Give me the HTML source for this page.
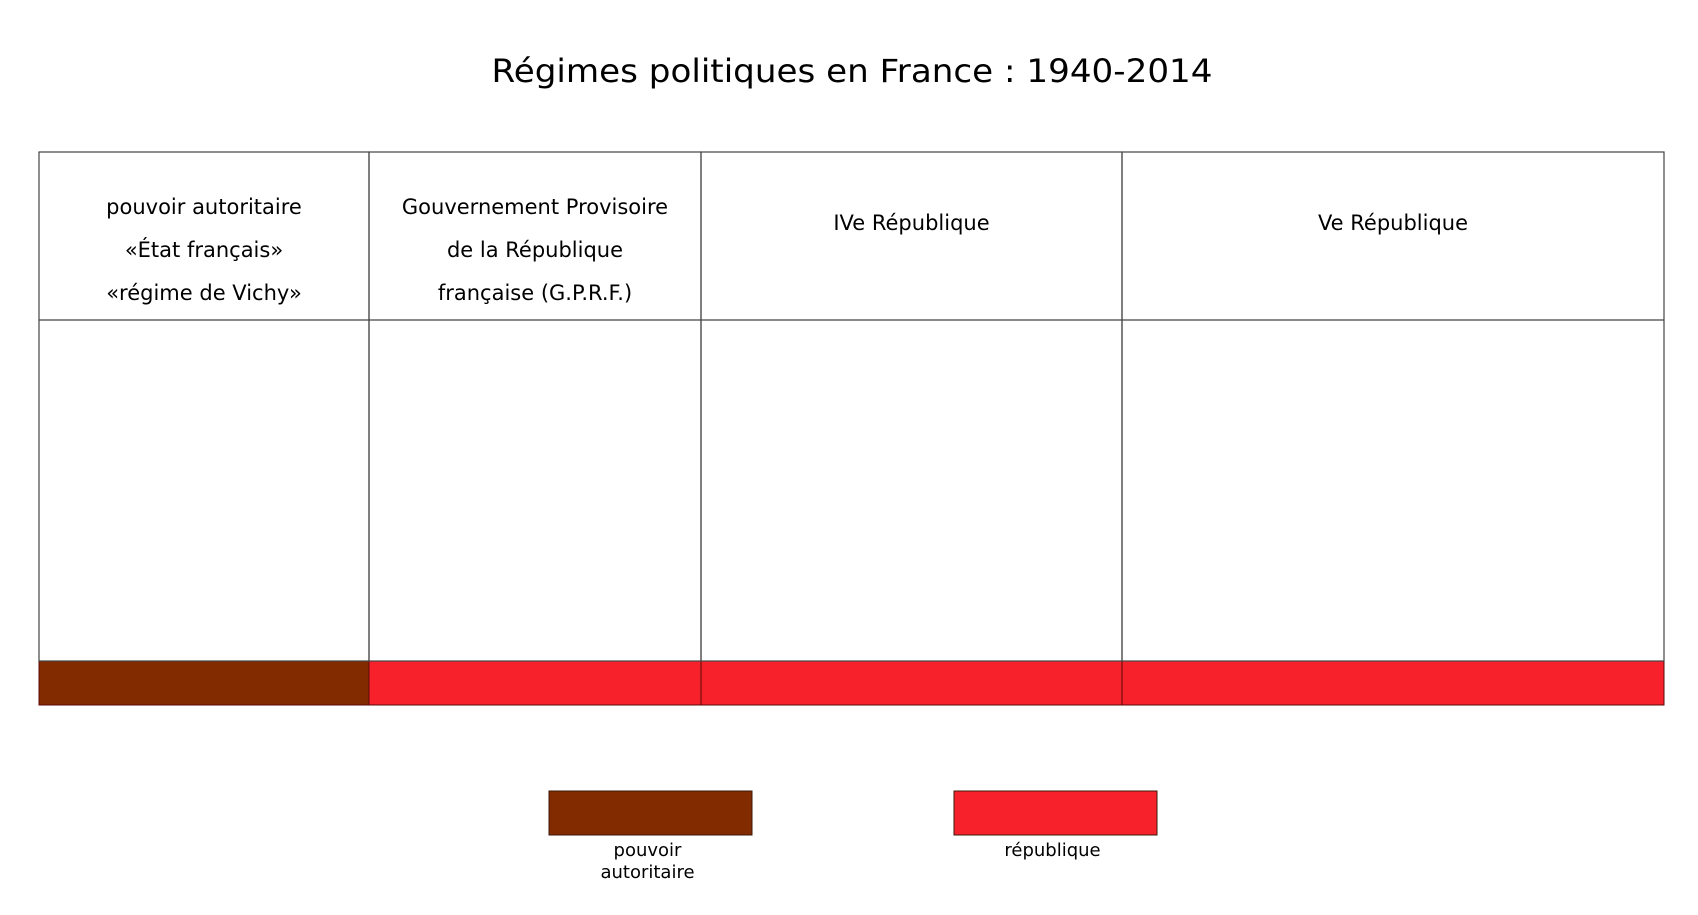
<!DOCTYPE html>
<html lang="fr">
<head>
<meta charset="utf-8">
<title>Régimes politiques en France : 1940-2014</title>
<style>
  html,body{margin:0;padding:0;background:#fff;}
  svg{display:block;font-family:"DejaVu Sans","Liberation Sans",sans-serif;}
</style>
</head>
<body>
<svg id="chart" width="1698" height="915" viewBox="0 0 1698 915" xmlns="http://www.w3.org/2000/svg">
  <text x="852" y="82" text-anchor="middle" font-size="32" textLength="721" lengthAdjust="spacingAndGlyphs" fill="#000">Régimes politiques en France : 1940-2014</text>
  <g id="table"></g>
  <g id="legend"></g>
</svg>
<script>
// Data
const regimeLabels = [
  ["pouvoir autoritaire", "«État français»", "«régime de Vichy»"],
  ["Gouvernement Provisoire", "de la République", "française (G.P.R.F.)"],
  ["IVe République"],
  ["Ve République"]
];
const regimeTypes = ["autoritaire", "republique", "republique", "republique"];
const legendTypes = ["autoritaire", "republique"];
const legendLabels = [["pouvoir", "autoritaire"], ["république"]];

// Layout
const NS = "http://www.w3.org/2000/svg";
const colEdges = [39, 369, 701, 1122, 1664];
const tableTop = 152, headerBottom = 320, bandTop = 661, bandBottom = 705;
const colors = {autoritaire: "#832B00", republique: "#F6212B"};
const tableG = document.getElementById("table");
const legendG = document.getElementById("legend");

function mk(tag, attrs, parent) {
  const el = document.createElementNS(NS, tag);
  for (const k in attrs) el.setAttribute(k, attrs[k]);
  parent.appendChild(el);
  return el;
}

regimeLabels.forEach((lines, i) => {
  const x0 = colEdges[i], x1 = colEdges[i + 1], cx = (x0 + x1) / 2;
  const band = mk("rect", {x: x0, y: bandTop, width: x1 - x0, height: bandBottom - bandTop, fill: colors[regimeTypes[i]], stroke: "#5a0a0a", "stroke-width": 1}, tableG);
  
  
  const cell = mk("rect", {x: x0, y: tableTop, width: x1 - x0, height: bandTop - tableTop, fill: "none", stroke: "#444", "stroke-width": 1.2}, tableG);
  
  
  const hdr = mk("line", {x1: x0, x2: x1, y1: headerBottom, y2: headerBottom, stroke: "#444", "stroke-width": 1.2}, tableG);
  
  
  const centers = lines.length === 3 ? [207, 250, 293] : [223];
  lines.forEach((t, j) => {
    const tx = mk("text", {x: cx, y: centers[j] + 7, "text-anchor": "middle", "font-size": 21, fill: "#000"}, tableG);
    tx.textContent = t;
    
    
  });
});

const legendX = [549, 954], legendW = 203;
legendTypes.forEach((t, i) => {
  const sw = mk("rect", {x: legendX[i], y: 791, width: legendW, height: 44, fill: colors[t], stroke: "#3a1a0a", "stroke-width": 1}, legendG);
  
  
  legendLabels[i].forEach((l, j) => {
    const tx = mk("text", {x: legendX[i] + legendW / 2 - 3, y: 856 + j * 22, "text-anchor": "middle", "font-size": 18, fill: "#000"}, legendG);
    tx.textContent = l;
    
    
  });
});
</script>
</body>
</html>
